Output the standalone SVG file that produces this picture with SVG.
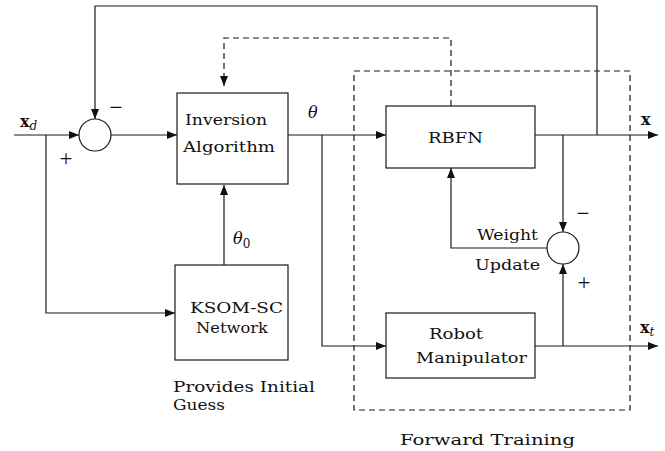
<svg xmlns="http://www.w3.org/2000/svg" width="665" height="451" viewBox="0 0 665 451">
  <style>
    .ln { fill: none; stroke: #1a1a1a; stroke-width: 1.2; }
    .dash { fill: none; stroke: #1a1a1a; stroke-width: 1.2; stroke-dasharray: 6 4; }
    .box { fill: #fff; stroke: #1a1a1a; stroke-width: 1.2; }
    .t { font-family: "DejaVu Serif", "Liberation Serif", serif; font-size: 15px; fill: #111; }
    .op { font-family: "Liberation Serif", serif; font-size: 23px; fill: #111; }
    .m { font-family: "DejaVu Serif", "Liberation Serif", serif; font-size: 16px; fill: #111; font-style: italic; }
    .v { font-family: "DejaVu Serif", "Liberation Serif", serif; font-size: 16px; fill: #111; font-weight: bold; }
    .s { font-family: "DejaVu Serif", "Liberation Serif", serif; font-size: 12px; fill: #111; font-style: italic; font-weight: normal; }
    .s0 { font-family: "DejaVu Serif", "Liberation Serif", serif; font-size: 12px; fill: #111; font-style: normal; }
  </style>
  <defs>
    <marker id="arr" viewBox="0 0 10 8" refX="10" refY="4" markerWidth="10" markerHeight="8" markerUnits="userSpaceOnUse" orient="auto">
      <path d="M0,0 L10,4 L0,8 Z" fill="#111"/>
    </marker>
  </defs>

  <!-- forward training region -->
  <rect class="dash" x="354" y="71" width="276" height="339"/>

  <g id="connectors">
    <!-- reference input into the first summing junction -->
    <line class="ln" x1="14" y1="135" x2="79" y2="135" marker-end="url(#arr)"/>
    <polyline class="ln" points="46,135 46,313 175,313" marker-end="url(#arr)"/>
    <!-- outer feedback of x -->
    <polyline class="ln" points="597,135 597,6 95,6 95,119" marker-end="url(#arr)"/>
    <!-- error into inversion -->
    <line class="ln" x1="111" y1="135" x2="177" y2="135" marker-end="url(#arr)"/>
    <!-- theta to RBFN and robot -->
    <line class="ln" x1="288" y1="135" x2="386" y2="135" marker-end="url(#arr)"/>
    <polyline class="ln" points="322,135 322,346 386,346" marker-end="url(#arr)"/>
    <!-- initial guess -->
    <line class="ln" x1="224" y1="265" x2="224" y2="185" marker-end="url(#arr)"/>
    <!-- RBFN output -->
    <line class="ln" x1="535" y1="135" x2="658" y2="135" marker-end="url(#arr)"/>
    <line class="ln" x1="563" y1="135" x2="563" y2="232" marker-end="url(#arr)"/>
    <!-- robot output -->
    <line class="ln" x1="535" y1="346" x2="658" y2="346" marker-end="url(#arr)"/>
    <line class="ln" x1="563" y1="346" x2="563" y2="264" marker-end="url(#arr)"/>
    <!-- weight update -->
    <polyline class="ln" points="547,248 451,248 451,168" marker-end="url(#arr)"/>
    <!-- dashed link back to inversion -->
    <polyline class="dash" points="451,106 451,38 224,38 224,86" marker-end="url(#arr)"/>
  </g>

  <g id="sum1">
    <circle class="box" cx="95" cy="135" r="16"/>
    <text class="op" x="116" y="115" text-anchor="middle">−</text>
    <text class="op" x="66" y="166" text-anchor="middle">+</text>
  </g>

  <g id="sum2">
    <circle class="box" cx="563" cy="248" r="16"/>
    <text class="op" x="583" y="221" text-anchor="middle">−</text>
    <text class="op" x="584" y="290" text-anchor="middle">+</text>
  </g>

  <g id="inversion">
    <rect class="box" x="177" y="93" width="111" height="91"/>
    <text class="t" x="185" y="125" textLength="82" lengthAdjust="spacingAndGlyphs">Inversion</text>
    <text class="t" x="183" y="152" textLength="92" lengthAdjust="spacingAndGlyphs">Algorithm</text>
  </g>

  <g id="ksom">
    <rect class="box" x="175" y="265" width="113" height="95"/>
    <text class="t" x="190" y="313" textLength="93" lengthAdjust="spacingAndGlyphs">KSOM-SC</text>
    <text class="t" x="196" y="333" textLength="72" lengthAdjust="spacingAndGlyphs">Network</text>
  </g>

  <g id="rbfn">
    <rect class="box" x="386" y="106" width="149" height="62"/>
    <text class="t" x="428" y="143" textLength="55" lengthAdjust="spacingAndGlyphs">RBFN</text>
  </g>

  <g id="robot">
    <rect class="box" x="386" y="313" width="149" height="65"/>
    <text class="t" x="429" y="339" textLength="54" lengthAdjust="spacingAndGlyphs">Robot</text>
    <text class="t" x="416" y="363" textLength="111" lengthAdjust="spacingAndGlyphs">Manipulator</text>
  </g>

  <!-- signal labels -->
  <text class="v" x="20" y="127">x<tspan class="s" dy="3">d</tspan></text>
  <text class="m" x="308" y="118">θ</text>
  <text class="m" x="233" y="244">θ<tspan class="s0" dy="4">0</tspan></text>
  <text class="v" x="641" y="125">x</text>
  <text class="v" x="640" y="333">x<tspan class="s" dy="3">t</tspan></text>
  <text class="t" x="477" y="240" textLength="61" lengthAdjust="spacingAndGlyphs">Weight</text>
  <text class="t" x="475" y="270" textLength="65" lengthAdjust="spacingAndGlyphs">Update</text>
  <text class="t" x="173" y="392" textLength="142" lengthAdjust="spacingAndGlyphs">Provides Initial</text>
  <text class="t" x="173" y="410" textLength="52" lengthAdjust="spacingAndGlyphs">Guess</text>
  <text class="t" x="400" y="445" textLength="175" lengthAdjust="spacingAndGlyphs">Forward Training</text>
</svg>
